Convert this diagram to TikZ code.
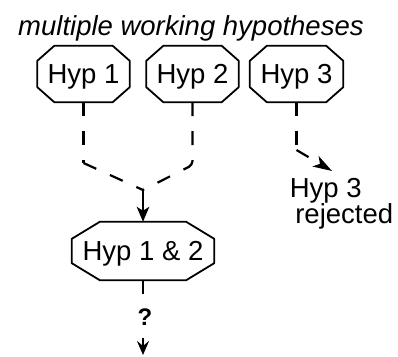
\documentclass[tikz,border=0pt]{standalone}
\usepackage{fontspec}
\setmainfont{Liberation Sans}
\usetikzlibrary{arrows.meta}

% octagonal frame around a node: #1 node name, #2 horizontal cut, #3 vertical cut
\newcommand\octframe[3]{%
  \draw[frame] ([xshift=#2]#1.north west) -- ([xshift=-#2]#1.north east)
    -- ([yshift=-#3]#1.north east) -- ([yshift=#3]#1.south east)
    -- ([xshift=-#2]#1.south east) -- ([xshift=#2]#1.south west)
    -- ([yshift=#3]#1.south west) -- ([yshift=-#3]#1.north west) -- cycle;}

\begin{document}
\begin{tikzpicture}[x=1pt,y=-1pt,
  hyp/.style={inner sep=0pt, minimum width=92pt, minimum height=56pt,
    font=\fontsize{27.5}{30}\selectfont, text height=19.5pt, text depth=0pt},
  frame/.style={line width=1.8pt, line join=round},
  dsh/.style={line width=2.2pt, dash pattern=on 14pt off 15pt},
  tip/.style={-{Stealth[length=15pt,width=12.5pt,inset=4pt]}, line width=2.2pt},
  longtip/.style={-{Stealth[length=19pt,width=12pt,inset=5pt]}, line width=2.2pt},
  endtip/.style={-{Stealth[length=14pt,width=12pt,inset=5pt]}, line width=2.2pt}
]
\useasboundingbox (0,0) rectangle (398,356);

% heading
\node[anchor=base west, inner sep=0pt, font=\itshape\fontsize{27.5}{30}\selectfont]
  (title) at (18,35) {multiple working hypotheses};

% hypotheses
\node[hyp] (h1) at (83.5,74) {Hyp 1};
\node[hyp] (h2) at (192.5,74) {Hyp 2};
\node[hyp, minimum width=93pt] (h3) at (296.5,74) {Hyp 3};
\node[hyp, minimum width=142pt, minimum height=58pt] (h12) at (143,251) {Hyp 1 \& 2};
\octframe{h1}{17pt}{15pt}
\octframe{h2}{17pt}{15pt}
\octframe{h3}{17pt}{15pt}
\octframe{h12}{28pt}{17pt}

% outcome labels (base anchor sits on the last line)
\node[anchor=base west, align=left, inner sep=0pt, font=\fontsize{27.5}{26}\selectfont]
  (rej) at (289.6,223) {Hyp 3\\\hspace{5.5pt}rejected};
\node[inner sep=0pt, font=\bfseries\fontsize{24}{26}\selectfont] (q) at (145,317) {?};

% bends and end points of the connectors
\coordinate (c1) at (83.5,163);
\coordinate (c2) at (192.5,165);
\coordinate (m) at (143,190);
\coordinate (c3) at (296.5,150);
\coordinate (r3) at (332,171);
\coordinate (out) at (143,355);

% merging hypotheses 1 and 2
\draw[dsh] (h1.south) -- (c1);
\draw[dsh] (c1) -- (m);
\draw[dsh, rounded corners=4pt] (h2.south) -- (c2) -- (m);
\draw[tip] (m) -- (h12.north);

% rejection of hypothesis 3
\draw[dsh] (h3.south) -- (c3);
\draw[dsh, longtip] (c3) -- (r3);

% open continuation below the merged hypothesis
\draw[dsh] (h12.south) -- (h12.south |- q.north);
\draw[endtip, shorten <=12pt] (q.south -| out) -- (out);
\end{tikzpicture}
\end{document}
